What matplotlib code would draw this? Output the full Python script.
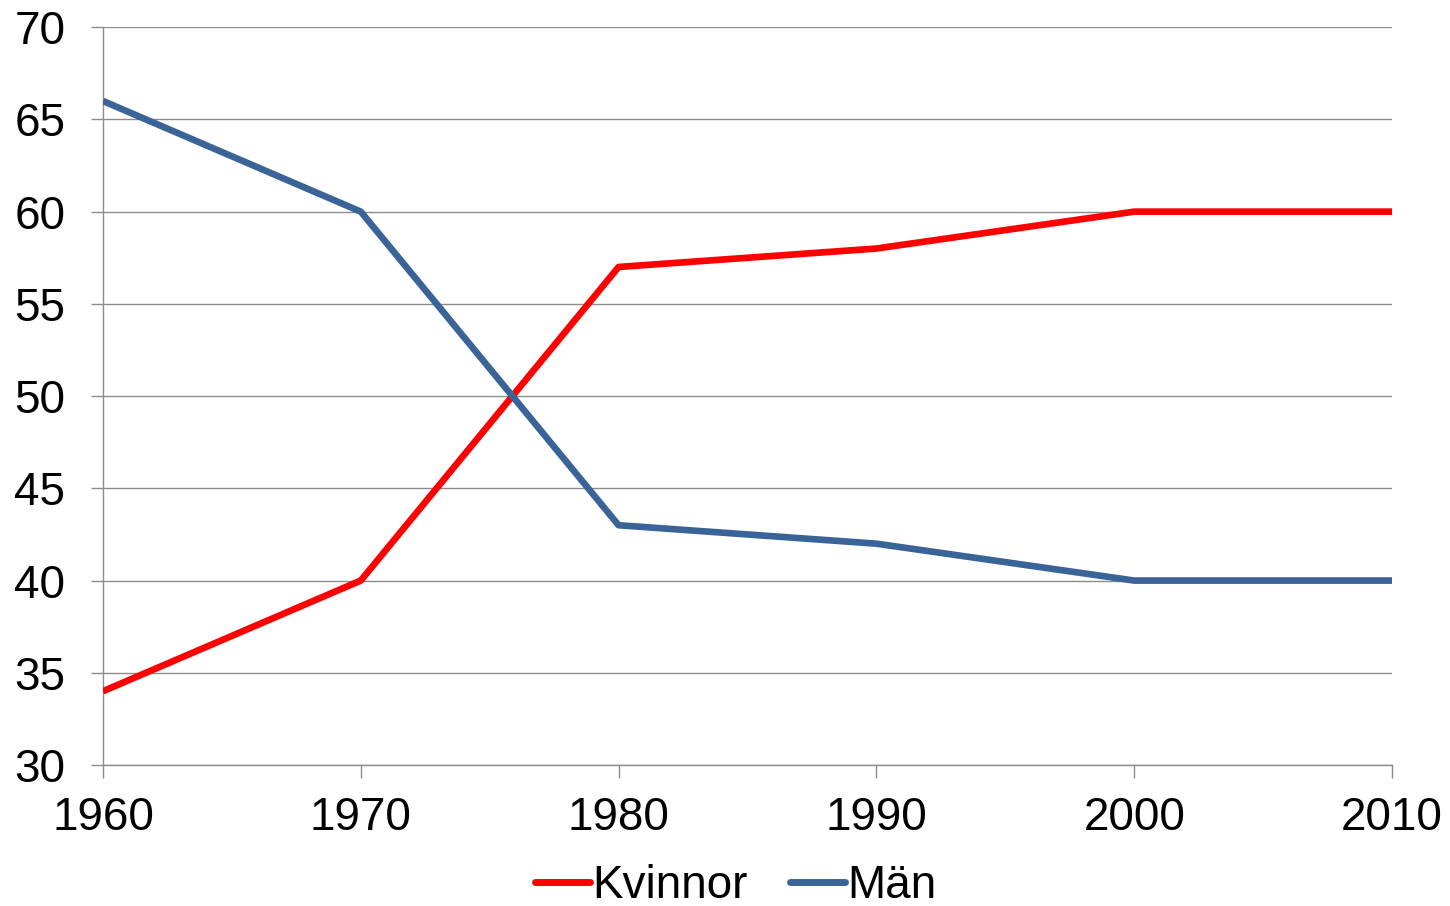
import matplotlib
matplotlib.use("Agg")
import matplotlib.pyplot as plt

years = [1960, 1970, 1980, 1990, 2000, 2010]
kvinnor = [34, 40, 57, 58, 60, 60]
man = [66, 60, 43, 42, 40, 40]
yticks = [30, 35, 40, 45, 50, 55, 60, 65, 70]

plt.rcParams['font.family'] = ['Liberation Sans', 'DejaVu Sans']

fig = plt.figure(figsize=(14.5, 9.06), dpi=100)
ax = fig.add_axes([0.0710, 0.1556, 0.96 - 0.0710, 0.970 - 0.1556])

grid_c = '#8c8c8c'
ax.plot(years, kvinnor, color='#FF0000', lw=4.8, label='Kvinnor', solid_capstyle='butt', zorder=3)
ax.plot(years, man, color='#3A6497', lw=4.8, label='Män', solid_capstyle='butt', zorder=3)

ax.set_xlim(1960, 2010)
ax.set_ylim(30, 70)
ax.set_xticks(years)
ax.set_yticks(yticks)
ax.yaxis.grid(True, color=grid_c, lw=1.0)
ax.set_axisbelow(True)
for s in ['top', 'right']:
    ax.spines[s].set_visible(False)
for s in ['left', 'bottom']:
    ax.spines[s].set_color(grid_c)
    ax.spines[s].set_linewidth(1.0)
ax.tick_params(axis='both', colors=grid_c, length=9, width=1.0, labelsize=33, labelcolor='black')
ax.tick_params(axis='y', pad=18)
ax.tick_params(axis='x', pad=13)

leg = fig.legend(loc='center', bbox_to_anchor=(0.5 + 11 / 1450, 1 - 886 / 906), ncol=2, frameon=False,
                 fontsize=33, handlelength=1.2, handletextpad=0.05, columnspacing=0.93,
                 borderpad=0.1)
for l in leg.get_lines():
    l.set_linewidth(5)
    l.set_solid_capstyle('round')

fig.savefig('out.png', dpi=100)
